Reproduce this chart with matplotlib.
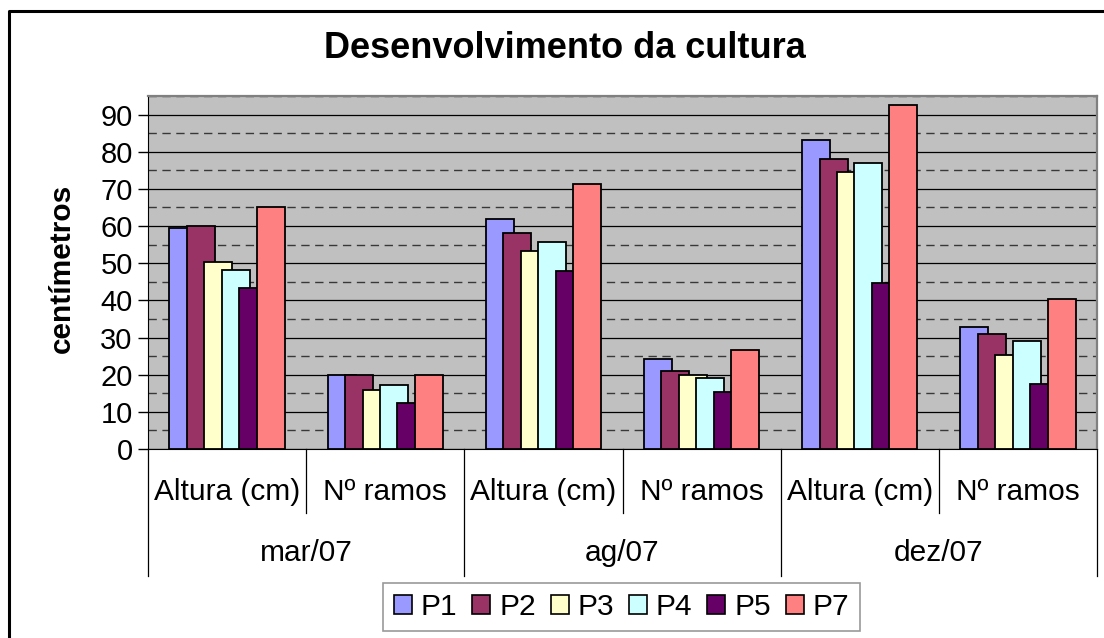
import matplotlib
matplotlib.use("Agg")
import matplotlib.pyplot as plt
from matplotlib.lines import Line2D
from matplotlib.patches import Patch
import numpy as np

plt.rcParams['font.family'] = ['Liberation Sans', 'DejaVu Sans']

# data
periods = ["mar/07", "ag/07", "dez/07"]
measures = ["Altura (cm)", "Nº ramos"]
series = ["P1", "P2", "P3", "P4", "P5", "P7"]
p1 = [59.5, 19.9, 62.0, 24.3, 83.1, 32.9]
p2 = [60.0, 19.9, 58.2, 21.0, 78.1, 30.9]
p3 = [50.2, 16.0, 53.2, 19.8, 74.5, 25.4]
p4 = [48.3, 17.3, 55.7, 19.2, 77.0, 29.1]
p5 = [43.4, 12.5, 47.8, 15.4, 44.7, 17.4]
p7 = [65.1, 19.9, 71.3, 26.7, 92.5, 40.3]
colors = ["#9999FF", "#993366", "#FFFFCC", "#CCFFFF", "#660066", "#FF8080"]

values = [p1, p2, p3, p4, p5, p7]

fig = plt.figure(figsize=(11.04, 6.38), dpi=100)
ax = fig.add_axes([148 / 1104, 189 / 638, 949 / 1104, 353 / 638])
ax.set_facecolor("#C0C0C0")

ncat = len(periods) * len(measures)
x = np.arange(ncat) + 0.5
step, width = 0.1106, 0.177
for k, (vals, c) in enumerate(zip(values, colors)):
    ax.bar(x + (k - 2.5) * step, vals, width=width, color=c,
           edgecolor="black", linewidth=1.3, zorder=3 + k)

ax.set_xlim(0, ncat)
ax.set_ylim(0, 95)
ax.set_yticks(np.arange(0, 91, 10))
ax.set_yticks(np.arange(5, 96, 10), minor=True)
ax.tick_params(axis="y", which="major", length=7, width=1, pad=4,
               labelsize=21, direction="out")
ax.tick_params(axis="y", which="minor", length=0)
ax.grid(axis="y", which="major", color="black", linewidth=0.9, zorder=1)
ax.grid(axis="y", which="minor", color="#383838", linewidth=1.0,
        linestyle=(0, (6, 4)), zorder=1)
ax.set_axisbelow(True)
ax.set_xticks([])

for s in ["top", "right"]:
    ax.spines[s].set_color("#808080")
    ax.spines[s].set_linewidth(1.6)
ax.spines["left"].set_color("black")
ax.spines["bottom"].set_color("black")

# category labels (two levels)
tr = ax.get_xaxis_transform()
for i in range(ncat):
    ax.text(x[i], -0.122, measures[i % 2], transform=tr, ha="center",
            va="center", fontsize=21.5)
for j, p in enumerate(periods):
    ax.text(2 * j + 1, -0.295, p, transform=tr, ha="center", va="center",
            fontsize=21.5)
for b in range(ncat + 1):
    y_end = -0.36 if b % 2 == 0 else -0.181
    ax.plot([b, b], [0, y_end], transform=tr, color="black", linewidth=0.9,
            clip_on=False)

fig.text(62 / 1104, (638 - 268) / 638, "centímetros", rotation=90,
         ha="center", va="center", fontsize=21.5, fontweight="bold")

fig.text(565 / 1104, (638 - 49) / 638, "Desenvolvimento da cultura",
         ha="center", va="center", fontsize=26, fontweight="bold")

handles = [Patch(facecolor=c, edgecolor="black", linewidth=1.2) for c in colors]
leg = fig.legend(handles, series, loc="center", ncol=6,
                 bbox_to_anchor=(621.5 / 1104, 31 / 638), fontsize=21.5,
                 frameon=True, fancybox=False, handlelength=0.6,
                 handleheight=0.6, handletextpad=0.3, columnspacing=0.5,
                 borderpad=0.35, borderaxespad=0)
leg.get_frame().set_edgecolor("#808080")
leg.get_frame().set_linewidth(1.2)

# chart border (cropped at right and bottom)
fig.add_artist(Line2D([9 / 1104, 9 / 1104, 1.0], [0, 627 / 638, 627 / 638],
                      transform=fig.transFigure, color="black", linewidth=2.2))

fig.savefig("out.png", dpi=100)
